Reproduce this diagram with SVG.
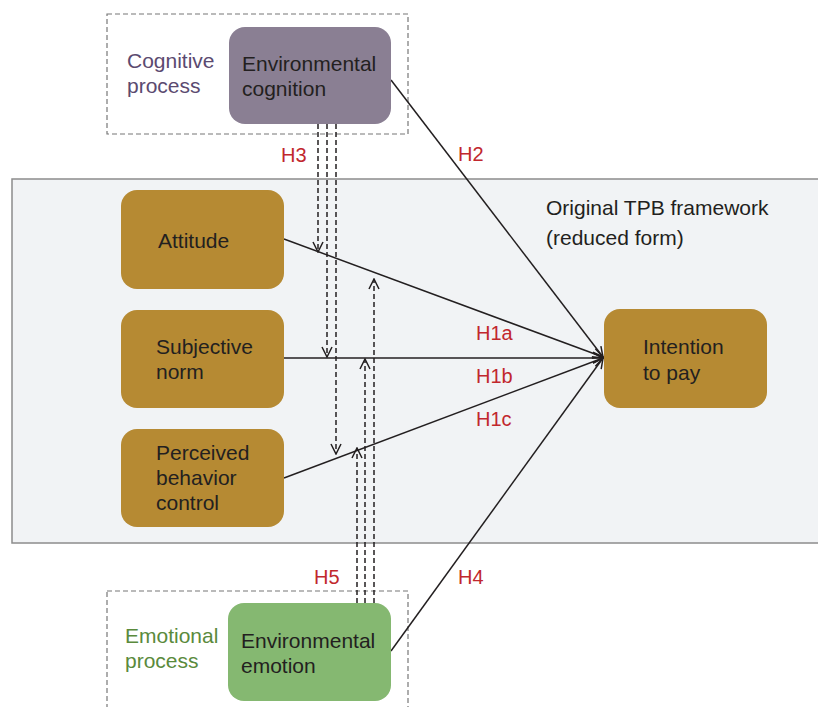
<svg xmlns="http://www.w3.org/2000/svg" width="818" height="707" viewBox="0 0 818 707">
<defs>
<style>
.t{font-family:"Liberation Sans",Arial,sans-serif;font-size:21px;fill:#231f20}
.h{font-family:"Liberation Sans",Arial,sans-serif;font-size:20px;fill:#c1272d}
.sol{stroke:#231f20;stroke-width:1.5;fill:none}
.das{stroke:#231f20;stroke-width:1.5;fill:none;stroke-dasharray:5,3}
.box{fill:none;stroke:#777;stroke-width:1.2;stroke-dasharray:5,3}
.tpb{fill:#b68a33}
</style>
<marker id="a" viewBox="0 0 12 12" refX="11" refY="6" markerWidth="12" markerHeight="12" markerUnits="userSpaceOnUse" orient="auto">
<path d="M1,1 L11,6 L1,11" fill="none" stroke="#231f20" stroke-width="1.5"/>
</marker>
</defs>
<rect width="818" height="707" fill="#fff"/>
<g id="framework">
<rect x="12" y="179" width="820" height="364" fill="#f1f3f5" stroke="#8c8c8c" stroke-width="1.5"/>
<text class="t" x="546" y="215">Original TPB framework</text>
<text class="t" x="546" y="245">(reduced form)</text>
</g>
<g id="cognitive-process">
<rect class="box" x="107" y="14" width="301" height="120"/>
<text class="t" x="127" y="68" style="fill:#5b4a70">Cognitive</text>
<text class="t" x="127" y="93" style="fill:#5b4a70">process</text>
</g>
<g id="emotional-process">
<rect class="box" x="107" y="591" width="301" height="130"/>
<text class="t" x="125" y="643" style="fill:#5a8a3c">Emotional</text>
<text class="t" x="125" y="668" style="fill:#5a8a3c">process</text>
</g>
<g id="connectors">
<line class="sol" x1="391" y1="80" x2="603" y2="357" marker-end="url(#a)"/>
<line class="sol" x1="284" y1="239" x2="603" y2="357" marker-end="url(#a)"/>
<line class="sol" x1="284" y1="358" x2="603" y2="358" marker-end="url(#a)"/>
<line class="sol" x1="284" y1="478" x2="603" y2="358" marker-end="url(#a)"/>
<line class="sol" x1="391" y1="651" x2="603" y2="358" marker-end="url(#a)"/>
<line class="das" x1="318" y1="124" x2="318" y2="252" marker-end="url(#a)"/>
<line class="das" x1="327" y1="124" x2="327" y2="357" marker-end="url(#a)"/>
<line class="das" x1="336" y1="124" x2="336" y2="454" marker-end="url(#a)"/>
<line class="das" x1="357" y1="603" x2="357" y2="448" marker-end="url(#a)"/>
<line class="das" x1="365" y1="603" x2="365" y2="359" marker-end="url(#a)"/>
<line class="das" x1="374" y1="603" x2="374" y2="279" marker-end="url(#a)"/>
<text class="h" x="281" y="162">H3</text>
<text class="h" x="458" y="161">H2</text>
<text class="h" x="476" y="340">H1a</text>
<text class="h" x="476" y="383">H1b</text>
<text class="h" x="476" y="426">H1c</text>
<text class="h" x="458" y="584">H4</text>
<text class="h" x="314" y="584">H5</text>
</g>
<g id="environmental-cognition">
<rect x="229" y="27" width="162" height="97" rx="16" fill="#8a7f93"/>
<text class="t" x="242" y="71">Environmental</text>
<text class="t" x="242" y="96">cognition</text>
</g>
<g id="attitude">
<rect class="tpb" x="121" y="190" width="163" height="99" rx="16"/>
<text class="t" x="158" y="248">Attitude</text>
</g>
<g id="subjective-norm">
<rect class="tpb" x="121" y="310" width="163" height="98" rx="16"/>
<text class="t" x="156" y="354">Subjective</text>
<text class="t" x="156" y="379">norm</text>
</g>
<g id="perceived-behavior-control">
<rect class="tpb" x="121" y="429" width="163" height="98" rx="16"/>
<text class="t" x="156" y="460">Perceived</text>
<text class="t" x="156" y="485">behavior</text>
<text class="t" x="156" y="510">control</text>
</g>
<g id="intention-to-pay">
<rect class="tpb" x="604" y="309" width="163" height="99" rx="16"/>
<text class="t" x="643" y="354">Intention</text>
<text class="t" x="643" y="380">to pay</text>
</g>
<g id="environmental-emotion">
<rect x="228" y="603" width="163" height="98" rx="16" fill="#85b871"/>
<text class="t" x="241" y="648">Environmental</text>
<text class="t" x="241" y="673">emotion</text>
</g>
</svg>
